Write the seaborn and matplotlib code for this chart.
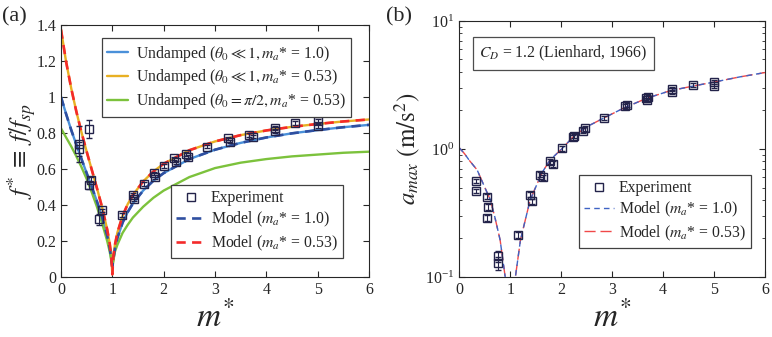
# plot.py
# natural frequency and peak acceleration of a pendulum vs mass ratio

import numpy as np
import pandas as pd
from matplotlib import pyplot as plt
from matplotlib.lines import Line2D
from matplotlib.ticker import FuncFormatter
import seaborn as sns

# ---- data ----
# panel (a): curves
m_curve_a = [0, 0.1, 0.2, 0.3, 0.4, 0.5, 0.6, 0.7, 0.8, 0.9, 0.95, 0.98, 1.0, 1.02, 1.05,
             1.1, 1.2, 1.3, 1.4, 1.6, 1.8, 2.0, 2.5, 3.0, 3.5, 4.0, 4.5, 5.0, 5.5, 6.0]
f_undamped_10 = [1.0, 0.905, 0.816, 0.734, 0.655, 0.577, 0.5, 0.42, 0.333, 0.229, 0.16, 0.1, 0.06,
                 0.1, 0.156, 0.218, 0.302, 0.361, 0.408, 0.48, 0.535, 0.577, 0.655, 0.707, 0.745,
                 0.775, 0.798, 0.816, 0.832, 0.845]
f_undamped_053 = [1.374, 1.195, 1.047, 0.918, 0.803, 0.697, 0.595, 0.494, 0.388, 0.264, 0.184, 0.115,
                  0.015, 0.114, 0.178, 0.248, 0.34, 0.405, 0.455, 0.531, 0.586, 0.629, 0.704, 0.753,
                  0.788, 0.814, 0.834, 0.85, 0.864, 0.875]
f_undamped_pi2 = [0.826, 0.775, 0.725, 0.67, 0.61, 0.545, 0.47, 0.39, 0.30, 0.20, 0.14, 0.09, 0.06,
                  0.09, 0.14, 0.18, 0.245, 0.29, 0.33, 0.39, 0.44, 0.48, 0.555, 0.605, 0.635, 0.655,
                  0.67, 0.68, 0.69, 0.696]
f_model_10 = f_undamped_10      # model lies on top of the undamped curves
f_model_053 = f_undamped_053

# panel (a): experiment
m_exp_a = [0.35, 0.35, 0.55, 0.55, 0.59, 0.75, 0.79, 1.18, 1.40, 1.42, 1.62, 1.82, 1.84, 2.01,
           2.21, 2.25, 2.43, 2.47, 2.84, 3.26, 3.29, 3.67, 3.74, 4.16, 4.16, 4.56, 5.01, 5.01]
f_exp_a = [0.74, 0.71, 0.82, 0.51, 0.54, 0.32, 0.37, 0.345, 0.455, 0.433, 0.517, 0.576, 0.557, 0.618,
           0.659, 0.637, 0.683, 0.668, 0.724, 0.77, 0.752, 0.789, 0.78, 0.826, 0.81, 0.854, 0.868, 0.839]
f_err_a = [0.10, 0.04, 0.05, 0.02, 0.015, 0.03, 0.01, 0.01, 0.01, 0.01, 0.01, 0.01, 0.01, 0.01,
           0.01, 0.01, 0.01, 0.01, 0.01, 0.01, 0.01, 0.01, 0.01, 0.01, 0.01, 0.01, 0.01, 0.01]

# panel (b): curves
m_curve_b = [0, 0.1, 0.2, 0.35, 0.5, 0.61, 0.7, 0.8, 0.9, 0.95, 1.05, 1.1, 1.2, 1.39, 1.62, 1.78,
             2.01, 2.24, 2.5, 2.83, 3.22, 3.68, 4.14, 4.59, 5.05, 5.5, 6.0]
a_model_10 = [1.02, 0.92, 0.81, 0.685, 0.50, 0.40, 0.29, 0.195, 0.10, 0.05, 0.05, 0.10, 0.195, 0.40,
              0.65, 0.82, 1.0, 1.25, 1.49, 1.74, 2.08, 2.49, 2.85, 3.1, 3.36, 3.65, 3.95]
a_model_053 = a_model_10

# panel (b): experiment
m_exp_b = [0.33, 0.33, 0.54, 0.56, 0.54, 0.75, 0.75, 1.16, 1.38, 1.43, 1.575, 1.64, 1.78, 1.84, 2.02,
           2.23, 2.25, 2.43, 2.46, 2.84, 3.25, 3.30, 3.68, 3.70, 3.66, 4.17, 4.17, 4.58, 4.99, 4.99]
a_exp_b = [0.56, 0.47, 0.425, 0.355, 0.288, 0.146, 0.128, 0.213, 0.44, 0.39, 0.63, 0.60, 0.80, 0.76,
           1.01, 1.23, 1.27, 1.39, 1.45, 1.74, 2.17, 2.21, 2.41, 2.54, 2.5, 2.8, 2.95, 3.16, 3.36, 3.1]
a_err_b = [0.02, 0.02, 0.02, 0.02, 0.015, 0.015, 0.015, 0.01, 0.02, 0.02, 0.03, 0.03, 0.04, 0.04, 0.04,
           0.05, 0.05, 0.06, 0.06, 0.07, 0.08, 0.08, 0.1, 0.1, 0.1, 0.1, 0.1, 0.12, 0.12, 0.12]

# ---- style ----
sns.set_style("ticks")
plt.rcParams['font.family'] = ['Liberation Serif', 'DejaVu Serif']
plt.rcParams['mathtext.fontset'] = 'stix'
plt.rcParams['xtick.direction'] = 'in'
plt.rcParams['ytick.direction'] = 'in'
plt.rcParams['xtick.top'] = True
plt.rcParams['ytick.right'] = True

c_light_blue = '#4a90d9'
c_orange = '#e8b023'
c_green = '#7cc23c'
c_dark_blue = '#2f4fa0'
c_red = '#f42a2a'
c_marker = '#23234a'

fig = plt.figure(figsize=(7.72, 3.37), dpi=100)
ax1 = fig.add_axes([0.079, 0.178, 0.399, 0.748])
ax2 = fig.add_axes([0.595, 0.178, 0.396, 0.760])

# ---- panel (a) ----
df_a = pd.DataFrame({'m': m_curve_a, 'u10': f_undamped_10, 'u053': f_undamped_053,
                     'upi': f_undamped_pi2, 'm10': f_model_10, 'm053': f_model_053})

sns.lineplot(data=df_a, x='m', y='u10', ax=ax1, color=c_light_blue, lw=1.7)
sns.lineplot(data=df_a, x='m', y='u053', ax=ax1, color=c_orange, lw=1.7)
sns.lineplot(data=df_a, x='m', y='upi', ax=ax1, color=c_green, lw=1.7)
sns.lineplot(data=df_a, x='m', y='m10', ax=ax1, color=c_dark_blue, lw=1.9, dashes=(3.5, 2.4))
sns.lineplot(data=df_a, x='m', y='m053', ax=ax1, color=c_red, lw=1.9, dashes=(3.5, 2.4))

ax1.errorbar(m_exp_a, f_exp_a, yerr=f_err_a, fmt='none', ecolor=c_marker, elinewidth=0.8, capsize=2)
ax1.plot(m_exp_a, f_exp_a, 's', ms=5.5, mfc='none', mec=c_marker, mew=1.0)

ax1.set_xlim(0, 6)
ax1.set_ylim(0, 1.4)
ax1.set_xticks(range(7))
ax1.set_yticks(np.arange(0, 1.41, 0.2))
ax1.yaxis.set_major_formatter(FuncFormatter(lambda v, p: f'{v:g}'))
ax1.tick_params(labelsize=11.5, length=4, width=0.8)
ax1.set_xlabel(r'$m^{*}$', fontsize=24, labelpad=2)
ax1.set_ylabel(r'$f^{*}\;\equiv\; f/f_{sp}$', fontsize=18, labelpad=-1)

leg_kw = dict(fancybox=False, edgecolor='0.25', framealpha=1, fontsize=11.3,
              borderpad=0.35, labelspacing=0.25, borderaxespad=0)
h_top = [Line2D([], [], color=c_light_blue, lw=1.7),
         Line2D([], [], color=c_orange, lw=1.7),
         Line2D([], [], color=c_green, lw=1.7)]
l_top = [r'Undamped ($\theta_0 \ll 1, m_a$* = 1.0)',
         r'Undamped ($\theta_0 \ll 1, m_a$* = 0.53)',
         r'Undamped ($\theta_0 = \pi/2, m_a$* = 0.53)']
leg1 = ax1.legend(h_top, l_top, loc='upper left', bbox_to_anchor=(0.133, 0.948),
                  handlelength=1.3, handletextpad=0.5, **leg_kw)
leg1.get_frame().set_linewidth(0.9)
ax1.add_artist(leg1)

h_bot = [Line2D([], [], ls='none', marker='s', ms=5.5, mfc='none', mec=c_marker, mew=1.0),
         Line2D([], [], color=c_dark_blue, lw=1.9, dashes=(3.5, 2.4)),
         Line2D([], [], color=c_red, lw=1.9, dashes=(3.5, 2.4))]
l_bot = ['Experiment', r'Model ($m_a$* = 1.0)', r'Model ($m_a$* = 0.53)']
leg2 = ax1.legend(h_bot, l_bot, loc='lower right', bbox_to_anchor=(0.916, 0.075),
                  handlelength=1.9, handletextpad=0.3, **leg_kw)
leg2.get_frame().set_linewidth(0.9)

fig.text(0.002, 0.935, '(a)', fontsize=16)

# ---- panel (b) ----
df_b = pd.DataFrame({'m': m_curve_b, 'a10': a_model_10, 'a053': a_model_053})
sns.lineplot(data=df_b, x='m', y='a053', ax=ax2, color='#f04848', lw=1.0, dashes=(8, 3.5))
sns.lineplot(data=df_b, x='m', y='a10', ax=ax2, color='#3f63c4', lw=1.0, dashes=(4, 3))

ax2.errorbar(m_exp_b, a_exp_b, yerr=a_err_b, fmt='none', ecolor=c_marker, elinewidth=0.8, capsize=2)
ax2.plot(m_exp_b, a_exp_b, 's', ms=5.5, mfc='none', mec=c_marker, mew=1.0)

ax2.set_yscale('log')
ax2.set_xlim(0, 6)
ax2.set_ylim(0.1, 10)
ax2.set_xticks(range(7))
ax2.tick_params(which='major', labelsize=11.5, length=4, width=0.8)
ax2.tick_params(which='minor', length=2.2, width=0.6)
ax2.set_xlabel(r'$m^{*}$', fontsize=24, labelpad=2)
ax2.set_ylabel(r'$a_{max}\ (\mathrm{m/s^{2}})$', fontsize=18, labelpad=2)

ax2.text(0.34, 0.872, r'$C_D$ = 1.2 (Lienhard, 1966)', transform=ax2.transAxes,
         ha='center', va='center', fontsize=11.3,
         bbox=dict(boxstyle='square,pad=0.42', fc='white', ec='0.3', lw=0.9))

h_b = [Line2D([], [], ls='none', marker='s', ms=5.5, mfc='none', mec=c_marker, mew=1.0),
       Line2D([], [], color='#3f63c4', lw=1.0, dashes=(4, 3)),
       Line2D([], [], color='#f04848', lw=1.0, dashes=(8, 3.5))]
leg3 = ax2.legend(h_b, l_bot, loc='lower right', bbox_to_anchor=(0.954, 0.113),
                  handlelength=1.9, handletextpad=0.3, **leg_kw)
leg3.get_frame().set_linewidth(0.9)

fig.text(0.5, 0.935, '(b)', fontsize=16)

for ax in (ax1, ax2):
    for s in ax.spines.values():
        s.set_linewidth(0.8)

fig.savefig('out.png', dpi=100)
